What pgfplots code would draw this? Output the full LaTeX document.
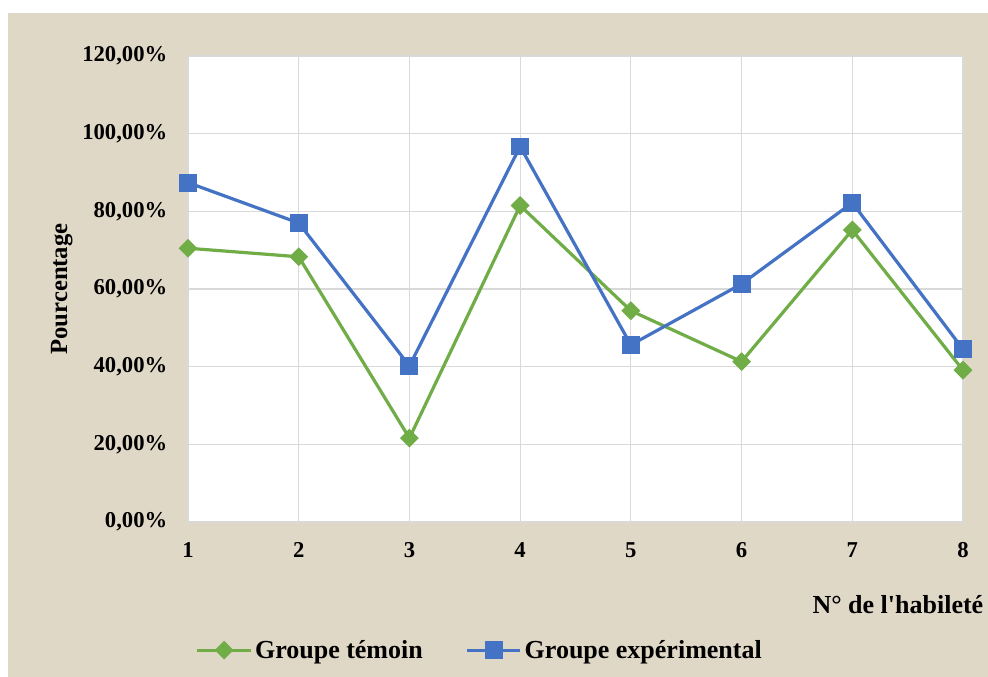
\documentclass[border=0pt]{standalone}
\usepackage{fontspec}
\setmainfont{Liberation Serif}
\usepackage{pgfplots}
\pgfplotsset{compat=1.18}
\definecolor{bgbeige}{RGB}{224,216,199}
\definecolor{xlblue}{RGB}{68,114,196}
\definecolor{xlgreen}{RGB}{112,173,71}
\definecolor{gridgray}{RGB}{217,217,217}
\begin{document}
\begin{tikzpicture}
\path[use as bounding box, fill=white] (0,0) rectangle (741pt,507.75pt);
\fill[bgbeige] (6pt,0) rectangle (741pt,498pt);
\begin{axis}[
  at={(141pt,116.25pt)}, anchor=south west,
  scale only axis, width=581.25pt, height=349.5pt,
  xmin=1, xmax=8, ymin=0, ymax=120,
  clip=false,
  axis background/.style={fill=white},
  axis line style={draw=none},
  major tick length=0pt,
  grid=major, major grid style={gridgray, line width=0.8pt},
  xtick={1,...,8},
  ytick={0,20,...,120},
  yticklabels={{0,00\%},{20,00\%},{40,00\%},{60,00\%},{80,00\%},{100,00\%},{120,00\%}},
  xticklabels={1,2,3,4,5,6,7,8},
  tick label style={font=\bfseries\fontsize{17}{19}\selectfont},
  yticklabel style={xshift=-12pt},
  xticklabel style={yshift=-12pt},
  xlabel={N° de l\textquotesingle habileté},
  ylabel={Pourcentage},
  label style={font=\bfseries\fontsize{18.5}{20}\selectfont},
  xlabel style={at={(rel axis cs:0.916,-0.178)}, anchor=center, font=\bfseries\fontsize{19.5}{21}\selectfont},
  ylabel style={at={(rel axis cs:-0.163,0.5)}, anchor=center},
  legend columns=2,
  legend style={at={(rel axis cs:0.377,-0.275)}, anchor=center, draw=none, fill=none,
    font=\bfseries\fontsize{19.5}{21}\selectfont,
    /tikz/every even column/.append style={column sep=30pt}},
  legend image code/.code={\draw[mark repeat=2,mark phase=2,#1] plot coordinates {(0pt,0pt)(20pt,0pt)(40pt,0pt)};},
]
\addplot[color=xlgreen, line width=2.4pt, mark=square*, mark size=3.8pt, mark options={rotate=45, solid}]
  coordinates {(1,70.5)(2,68.3)(3,21.6)(4,81.5)(5,54.4)(6,41.3)(7,75.2)(8,39.1)};
\addlegendentry{Groupe témoin}
\addplot[color=xlblue, line width=2.4pt, mark=square*, mark size=5.5pt, mark options={solid}]
  coordinates {(1,87.4)(2,77.0)(3,40.2)(4,96.7)(5,45.6)(6,61.3)(7,82.2)(8,44.5)};
\addlegendentry{Groupe expérimental}
\end{axis}
\end{tikzpicture}
\end{document}
